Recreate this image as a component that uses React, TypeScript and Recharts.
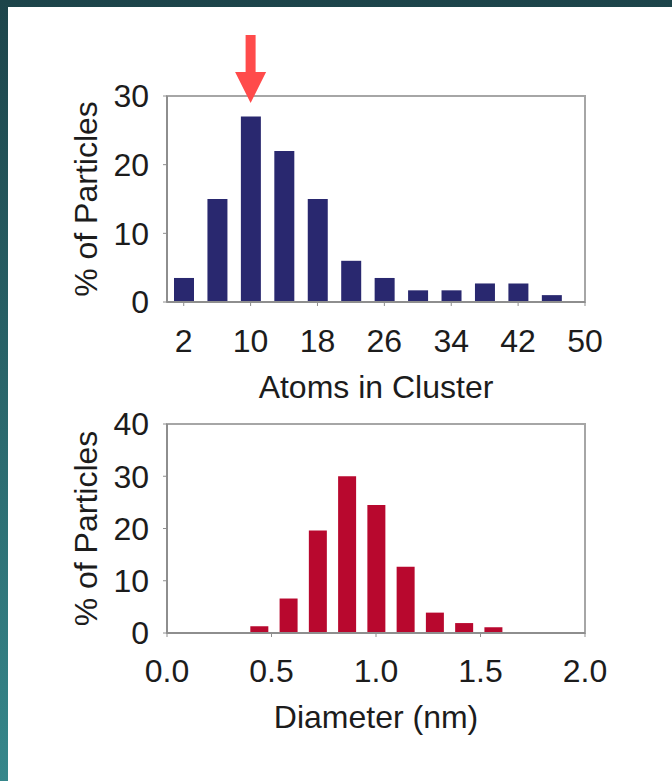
import React from "react";
import { BarChart, Bar, XAxis, YAxis, ReferenceDot, ReferenceArea, Label } from "recharts";

// cluster size distribution (top panel)
const atomCounts = [2, 6, 10, 14, 18, 22, 26, 30, 34, 38, 42, 46];
const atomPercent = [3.5, 15, 27, 22, 15, 6, 3.5, 1.7, 1.7, 2.7, 2.7, 1];
const atomTicks = [2, 10, 18, 26, 34, 42, 50];

// diameter distribution (bottom panel)
const diameters = [0.44, 0.58, 0.72, 0.86, 1.0, 1.14, 1.28, 1.42, 1.56];
const diameterPercent = [1.3, 6.6, 19.6, 30, 24.5, 12.7, 3.9, 1.9, 1.1];
const diameterTicks = [0, 0.5, 1, 1.5, 2];

const atomsTicksY = [0, 10, 20, 30];
const diameterTicksY = [0, 10, 20, 30, 40];

const peakAtoms = 10;

const atomData = atomCounts.map((x, i) => ({ x, pct: atomPercent[i] }));
const diameterData = diameters.map((x, i) => ({ x, pct: diameterPercent[i] }));

const FONT = "'Liberation Sans', Arial, Helvetica, sans-serif";
const TEXT = "#1c1c1c";
const AXIS = "#8e8e8e";
const BORDER = "#a6a6a6";

const tickStyle = { fontSize: 32, fill: TEXT, fontFamily: FONT };

const yLabel = (text: string) => (props: any) => {
  const vb = props.viewBox;
  const x = vb.x + 97;
  const y = vb.y + vb.height / 2;
  return (
    <text
      x={x}
      y={y}
      transform={`rotate(-90, ${x}, ${y})`}
      textAnchor="middle"
      fontSize={32}
      fontFamily={FONT}
      fill={TEXT}
    >
      {text}
    </text>
  );
};

const xLabel = (text: string, offset: number) => (props: any) => {
  const vb = props.viewBox;
  return (
    <text
      x={vb.x + vb.width / 2}
      y={vb.y + vb.height - offset}
      textAnchor="middle"
      fontSize={32}
      fontFamily={FONT}
      fill={TEXT}
    >
      {text}
    </text>
  );
};

const Arrow = (props: any) => {
  const { cx, cy } = props;
  const d = `M${cx - 5},${cy - 61} L${cx + 5},${cy - 61} L${cx + 5},${cy - 24} L${cx + 15.5},${cy - 24} L${cx},${cy + 7} L${cx - 15.5},${cy - 24} L${cx - 5},${cy - 24} Z`;
  return <path d={d} fill="#ff4b4b" />;
};

const App = () => {
  return (
    <div
      style={{
        position: "absolute",
        left: 0,
        top: 0,
        width: 672,
        height: 781,
        background: "linear-gradient(to bottom, #1d444a, #36878b)",
        overflow: "hidden",
      }}
    >
      <div
        style={{
          position: "absolute",
          left: 8,
          top: 7,
          right: 0,
          bottom: 0,
          background: "#ffffff",
        }}
      />

      {/* top: atoms in cluster */}
      <div style={{ position: "absolute", left: 0, top: 0 }}>
        <BarChart
          width={672}
          height={420}
          data={atomData}
          margin={{ top: 96, right: 87, left: 0, bottom: 0 }}
        >
          <ReferenceArea
            x1={0}
            x2={50}
            y1={0}
            y2={30}
            fill="none"
            fillOpacity={0}
            stroke={BORDER}
            strokeWidth={2}
            ifOverflow="visible"
          />
          <XAxis
            dataKey="x"
            type="number"
            domain={[0, 50]}
            ticks={atomTicks}
            interval={0}
            height={118}
            tick={tickStyle}
            tickSize={4}
            tickMargin={23}
            axisLine={{ stroke: AXIS, strokeWidth: 2 }}
            tickLine={{ stroke: AXIS }}
          >
            <Label content={xLabel("Atoms in Cluster", 22)} />
          </XAxis>
          <YAxis
            type="number"
            domain={[0, 30]}
            ticks={atomsTicksY}
            width={167}
            tick={tickStyle}
            tickSize={4}
            tickMargin={14}
            axisLine={{ stroke: AXIS, strokeWidth: 2 }}
            tickLine={{ stroke: AXIS }}
          >
            <Label content={yLabel("% of Particles")} />
          </YAxis>
          <Bar dataKey="pct" fill="#29286f" barSize={20} isAnimationActive={false} />
          <ReferenceDot x={peakAtoms} y={30} r={0} ifOverflow="visible" shape={Arrow} />
        </BarChart>
      </div>

      {/* bottom: diameter */}
      <div style={{ position: "absolute", left: 0, top: 400 }}>
        <BarChart
          width={672}
          height={381}
          data={diameterData}
          margin={{ top: 24, right: 87, left: 0, bottom: 0 }}
        >
          <ReferenceArea
            x1={0}
            x2={2}
            y1={0}
            y2={40}
            fill="none"
            fillOpacity={0}
            stroke={BORDER}
            strokeWidth={2}
            ifOverflow="visible"
          />
          <XAxis
            dataKey="x"
            type="number"
            domain={[0, 2]}
            ticks={diameterTicks}
            interval={0}
            height={148}
            tick={tickStyle}
            tickFormatter={(v: number) => v.toFixed(1)}
            tickSize={4}
            tickMargin={22}
            axisLine={{ stroke: AXIS, strokeWidth: 2 }}
            tickLine={{ stroke: AXIS }}
          >
            <Label content={xLabel("Diameter (nm)", 53)} />
          </XAxis>
          <YAxis
            type="number"
            domain={[0, 40]}
            ticks={diameterTicksY}
            width={167}
            tick={tickStyle}
            tickSize={4}
            tickMargin={14}
            axisLine={{ stroke: AXIS, strokeWidth: 2 }}
            tickLine={{ stroke: AXIS }}
          >
            <Label content={yLabel("% of Particles")} />
          </YAxis>
          <Bar dataKey="pct" fill="#b8082e" barSize={18} isAnimationActive={false} />
        </BarChart>
      </div>
    </div>
  );
};

export default App;
